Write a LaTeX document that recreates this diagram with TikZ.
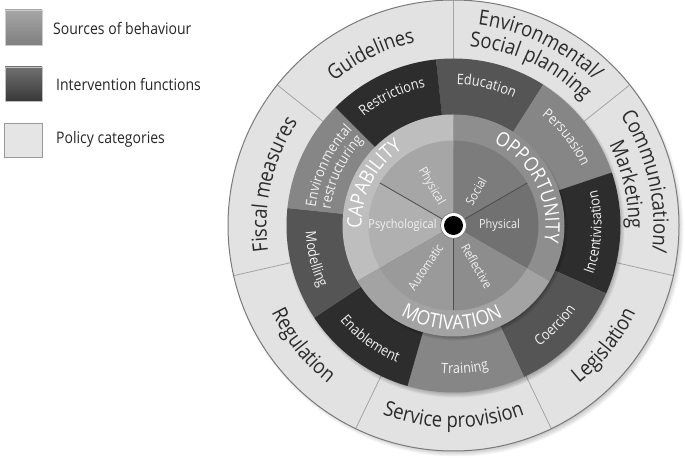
\documentclass[tikz,border=0pt]{standalone}
\usepackage{fontspec}
\setmainfont{Open Sans}[FakeStretch=0.88]
\usetikzlibrary{decorations.text}
\definecolor{polcol}{HTML}{E2E2E2}
\definecolor{polline}{HTML}{A4A4A4}
\definecolor{polrim}{HTML}{7A7A7A}
\definecolor{poltxt}{HTML}{2A2A2A}
\definecolor{ifdark}{HTML}{2D2D2D}
\definecolor{ifmid}{HTML}{555555}
\definecolor{iflight}{HTML}{868686}
\definecolor{bandcap}{HTML}{BEBEBE}
\definecolor{bandmot}{HTML}{A3A3A3}
\definecolor{bandopp}{HTML}{8E8E8E}
\definecolor{piecphys}{HTML}{A6A6A6}
\definecolor{piepsy}{HTML}{B0B0B0}
\definecolor{pieauto}{HTML}{9A9A9A}
\definecolor{pierefl}{HTML}{8D8D8D}
\definecolor{pieophys}{HTML}{717171}
\definecolor{piesoc}{HTML}{7C7C7C}
\definecolor{lighttxt}{HTML}{F2F2F2}
\newcommand\polf{\fontsize{21}{24}\selectfont}
\newcommand\intf{\fontsize{14.5}{16}\selectfont}
\newcommand\srcf{\fontsize{20}{22}\selectfont}
\newcommand\innerf{\fontsize{12.5}{14}\selectfont}
\newcommand\legf{\fontsize{16}{18}\selectfont}
% clockwise text: centre angle, half span, radius, font, colour, text
\newcommand\cwtext[6]{\pgfmathsetmacro\myA{#1+#2}\pgfmathsetmacro\myB{#1-#2}%
 \path[decorate,decoration={text along path,text align=center,text color=#5,text={|#4|#6}}]
 (\myA:#3) arc[start angle=\myA,end angle=\myB,radius=#3];}
\newcommand\ccwtext[6]{\pgfmathsetmacro\myA{#1+#2}\pgfmathsetmacro\myB{#1-#2}%
 \path[decorate,decoration={text along path,text align=center,text color=#5,text={|#4|#6}}]
 (\myB:#3) arc[start angle=\myB,end angle=\myA,radius=#3];}
% ring sector: start angle, end angle, inner r, outer r, fill
\newcommand\ringsec[5]{\fill[#5] (#1:#3) arc[start angle=#1,end angle=#2,radius=#3] -- (#2:#4) arc[start angle=#2,end angle=#1,radius=#4] -- cycle;}
\newcommand\piesec[4]{\fill[#4] (0,0) -- (#1:#3) arc[start angle=#1,end angle=#2,radius=#3] -- cycle;}
\tikzset{
 legtext/.style={anchor=west,inner sep=0pt,font=\legf,text=black!85},
 inlab/.style={inner sep=0pt,font=\innerf,text=lighttxt},
 sepline/.style={draw=polline,line width=0.8bp}
}
\begin{document}
\begin{tikzpicture}[x=1bp,y=1bp]
\useasboundingbox (0,0) rectangle (685,458);
\fill[white] (0,0) rectangle (685,458);
% legend
\shade[top color=black!35,bottom color=black!50,draw=black!20] (5,413) rectangle (42,448);
\shade[top color=black!56,bottom color=black!78,draw=black!25] (5,357) rectangle (42,391);
\fill[black!10,draw=black!40] (4,301) rectangle (42,335);
\node[legtext] (lsrc) at (53,430) {Sources of behaviour};
\node[legtext] (lint) at (56,374) {Intervention functions};
\node[legtext] (lpol) at (56,319) {Policy categories};
\begin{scope}[shift={(453.5,232.5)}]
 % outer drop shadow
 \foreach \k in {1,...,10}{\pgfmathsetmacro\rr{217+\k}\fill[black,opacity=0.035] (3,-4) circle[radius=\rr];}
 % policy ring
 \fill[polcol] (0,0) circle[radius=225.5];
 \foreach \a in {90,38.571,-12.857,-64.286,-115.714,-167.143,141.429}
   \draw[sepline] (\a:167) -- (\a:225);
 \draw[polrim,line width=1bp] (0,0) circle[radius=225.5];
 % shadow of the intervention ring
 \foreach \k in {1,...,7}{\pgfmathsetmacro\rr{162+\k}\fill[black,opacity=0.05] (2,-3) circle[radius=\rr];}
 % intervention functions
 \ringsec{57.5}{96}{110}{167}{ifmid}
 \ringsec{18.5}{57.5}{110}{167}{iflight}
 \ringsec{-24}{18.5}{110}{167}{ifdark}
 \ringsec{-65}{-24}{110}{167}{ifmid}
 \ringsec{-106}{-65}{110}{167}{iflight}
 \ringsec{-146.5}{-106}{110}{167}{ifdark}
 \ringsec{-186}{-146.5}{110}{167}{ifmid}
 \ringsec{135}{174}{110}{167}{iflight}
 \ringsec{96}{135}{110}{167}{ifdark}
 % shadow of the sources band
 \foreach \k in {1,...,6}{\pgfmathsetmacro\rr{106+\k}\fill[black,opacity=0.06] (2,-3) circle[radius=\rr];}
 % sources of behaviour band
 \ringsec{90}{210}{80}{111}{bandcap}
 \ringsec{210}{330}{80}{111}{bandmot}
 \ringsec{-30}{90}{80}{111}{bandopp}
 % inner pie
 \piesec{90}{150}{85}{piecphys}
 \piesec{150}{210}{85}{piepsy}
 \piesec{210}{270}{85}{pieauto}
 \piesec{270}{330}{85}{pierefl}
 \piesec{-30}{30}{85}{pieophys}
 \piesec{30}{90}{85}{piesoc}
 \foreach \a in {30,150,270} \draw[black!70,line width=0.8bp] (0,0) -- (\a:85);
 % centre
 \fill[white] (0,0) circle[radius=13];
 \draw[black!55,line width=0.6bp] (0,0) circle[radius=13];
 \fill[black] (0,0) circle[radius=9.5];
 % policy labels
 \cwtext{115.7}{40}{187}{\polf}{poltxt}{Guidelines}
 \cwtext{64.3}{40}{202}{\polf}{poltxt}{Environmental/}
 \cwtext{64.3}{40}{180}{\polf}{poltxt}{Social planning}
 \cwtext{12.9}{40}{200}{\polf}{poltxt}{Communication/}
 \cwtext{13.2}{40}{175}{\polf}{poltxt}{Marketing}
 \cwtext{167.1}{40}{187}{\polf}{poltxt}{Fiscal measures}
 \ccwtext{-141.4}{40}{202}{\polf}{poltxt}{Regulation}
 \ccwtext{-90}{40}{202}{\polf}{poltxt}{Service provision}
 \ccwtext{-38.6}{40}{202}{\polf}{poltxt}{Legislation}
 % intervention labels
 \cwtext{76.75}{40}{141}{\intf}{lighttxt}{Education}
 \cwtext{38}{40}{141}{\intf}{lighttxt}{Persuasion}
 \ccwtext{-2.75}{40}{148}{\intf}{lighttxt}{Incentivisation}
 \ccwtext{-44.5}{40}{148}{\intf}{lighttxt}{Coercion}
 \ccwtext{-85.5}{40}{148}{\intf}{lighttxt}{Training}
 \ccwtext{-126.25}{40}{148}{\intf}{lighttxt}{Enablement}
 \ccwtext{-166.25}{40}{148}{\intf}{lighttxt}{Modelling}
 \cwtext{154.5}{40}{139}{\intf}{lighttxt}{Environmental}
 \cwtext{154.5}{40}{124}{\intf}{lighttxt}{restructuring}
 \cwtext{115.5}{40}{141}{\intf}{lighttxt}{Restrictions}
 % sources labels
 \cwtext{152.5}{50}{92}{\srcf}{white}{CAPABILITY}
 \cwtext{27}{55}{92}{\srcf}{white}{OPPORTUNITY}
 \ccwtext{-91}{50}{104}{\srcf}{white}{MOTIVATION}
 % inner labels
 \node[inlab,rotate=-60] (cphys) at (119.5:45) {Physical};
 \node[inlab,rotate=60] (social) at (57:41) {Social};
 \node[inlab] (psych) at (180:51) {Psychological};
 \node[inlab] (ophys) at (0:46) {Physical};
 \node[inlab,rotate=56] (autom) at (236:50) {Automatic};
 \node[inlab,rotate=-60] (refl) at (-60:47) {Reflective};
\end{scope}
\end{tikzpicture}
\end{document}
